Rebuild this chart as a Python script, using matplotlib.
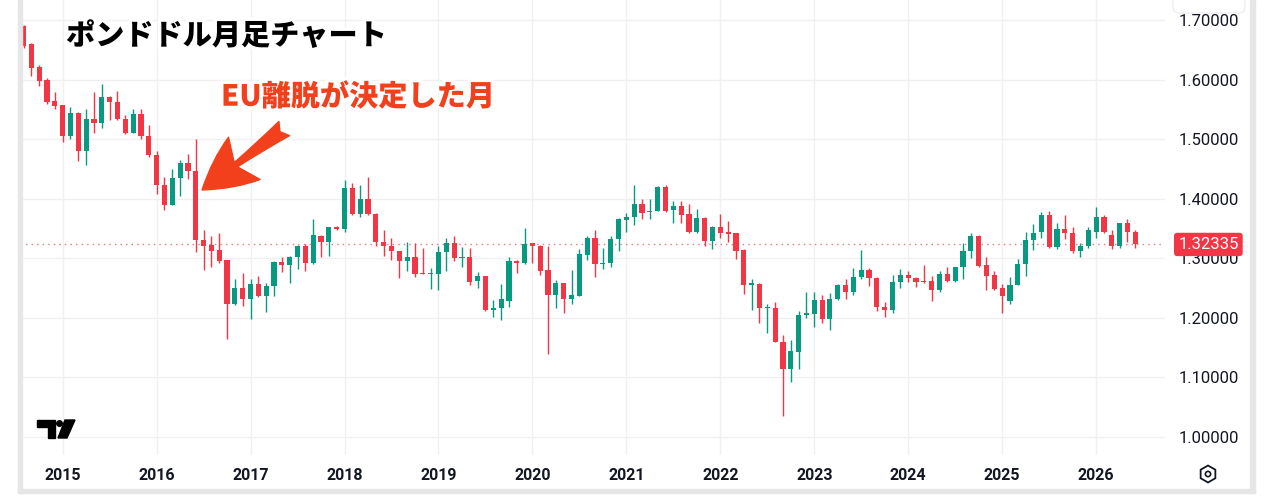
import matplotlib
matplotlib.use("Agg")
import matplotlib.pyplot as plt
import matplotlib.patheffects as pe
from matplotlib.patches import Rectangle, Polygon, RegularPolygon, Circle, FancyBboxPatch
from matplotlib.transforms import blended_transform_factory

# GBP/USD monthly candles, Aug 2014 -> Jun 2026
start_year, start_month = 2014, 8
opens = [1.690, 1.660, 1.622, 1.600, 1.565, 1.557, 1.505, 1.544, 1.480, 1.534,
         1.528, 1.571, 1.562, 1.534, 1.511, 1.542, 1.505, 1.473, 1.423, 1.390,
         1.435, 1.460, 1.447, 1.331, 1.322, 1.314, 1.297, 1.223, 1.250, 1.232,
         1.257, 1.236, 1.254, 1.294, 1.288, 1.302, 1.321, 1.292, 1.338, 1.327,
         1.353, 1.349, 1.418, 1.375, 1.400, 1.375, 1.328, 1.321, 1.312, 1.295,
         1.302, 1.276, 1.274, 1.274, 1.311, 1.325, 1.300, 1.302, 1.262, 1.270,
         1.213, 1.216, 1.229, 1.295, 1.292, 1.325, 1.321, 1.281, 1.238, 1.258,
         1.232, 1.237, 1.306, 1.335, 1.291, 1.293, 1.332, 1.365, 1.370, 1.392,
         1.377, 1.380, 1.420, 1.381, 1.388, 1.374, 1.345, 1.368, 1.329, 1.352,
         1.344, 1.342, 1.314, 1.255, 1.257, 1.216, 1.217, 1.160, 1.114, 1.143,
         1.205, 1.207, 1.230, 1.199, 1.231, 1.255, 1.243, 1.268, 1.281, 1.267,
         1.218, 1.213, 1.261, 1.272, 1.267, 1.262, 1.262, 1.247, 1.273, 1.262,
         1.285, 1.312, 1.338, 1.289, 1.272, 1.250, 1.229, 1.256, 1.290, 1.331,
         1.344, 1.372, 1.319, 1.349, 1.343, 1.312, 1.321, 1.345, 1.369, 1.340,
         1.320, 1.359, 1.345]
highs = [1.692, 1.662, 1.624, 1.603, 1.579, 1.558, 1.554, 1.545, 1.550, 1.580,
         1.593, 1.572, 1.581, 1.540, 1.551, 1.550, 1.524, 1.480, 1.437, 1.450,
         1.465, 1.475, 1.500, 1.347, 1.337, 1.343, 1.298, 1.266, 1.276, 1.265,
         1.270, 1.259, 1.295, 1.303, 1.304, 1.323, 1.324, 1.366, 1.339, 1.353,
         1.354, 1.432, 1.427, 1.423, 1.436, 1.376, 1.347, 1.335, 1.313, 1.328,
         1.325, 1.317, 1.283, 1.320, 1.334, 1.338, 1.319, 1.318, 1.277, 1.271,
         1.230, 1.257, 1.302, 1.297, 1.351, 1.325, 1.322, 1.321, 1.264, 1.259,
         1.281, 1.315, 1.338, 1.348, 1.317, 1.338, 1.367, 1.376, 1.424, 1.400,
         1.400, 1.421, 1.424, 1.397, 1.396, 1.391, 1.383, 1.369, 1.355, 1.374,
         1.363, 1.343, 1.315, 1.266, 1.258, 1.224, 1.227, 1.171, 1.163, 1.212,
         1.243, 1.243, 1.239, 1.241, 1.257, 1.266, 1.283, 1.314, 1.283, 1.268,
         1.226, 1.272, 1.282, 1.278, 1.269, 1.289, 1.270, 1.279, 1.285, 1.286,
         1.325, 1.342, 1.340, 1.303, 1.279, 1.257, 1.269, 1.299, 1.344, 1.358,
         1.377, 1.379, 1.359, 1.372, 1.353, 1.325, 1.353, 1.386, 1.373, 1.348,
         1.360, 1.366, 1.348]
lows = [1.654, 1.607, 1.589, 1.560, 1.550, 1.495, 1.500, 1.463, 1.457, 1.510,
        1.519, 1.533, 1.533, 1.509, 1.511, 1.500, 1.471, 1.408, 1.382, 1.390,
        1.404, 1.433, 1.311, 1.280, 1.286, 1.292, 1.164, 1.222, 1.220, 1.198,
        1.235, 1.210, 1.236, 1.277, 1.259, 1.282, 1.278, 1.291, 1.303, 1.304,
        1.347, 1.345, 1.373, 1.370, 1.373, 1.321, 1.304, 1.297, 1.267, 1.278,
        1.269, 1.273, 1.248, 1.247, 1.278, 1.296, 1.286, 1.255, 1.251, 1.211,
        1.201, 1.196, 1.219, 1.276, 1.290, 1.293, 1.272, 1.140, 1.216, 1.208,
        1.223, 1.236, 1.297, 1.268, 1.282, 1.285, 1.313, 1.345, 1.356, 1.366,
        1.366, 1.379, 1.378, 1.359, 1.359, 1.342, 1.342, 1.320, 1.316, 1.335,
        1.328, 1.299, 1.240, 1.213, 1.192, 1.175, 1.159, 1.035, 1.093, 1.115,
        1.200, 1.184, 1.191, 1.180, 1.230, 1.231, 1.238, 1.266, 1.254, 1.211,
        1.202, 1.209, 1.250, 1.261, 1.252, 1.258, 1.229, 1.244, 1.261, 1.261,
        1.265, 1.300, 1.285, 1.247, 1.247, 1.209, 1.224, 1.255, 1.271, 1.314,
        1.335, 1.317, 1.315, 1.332, 1.309, 1.302, 1.318, 1.334, 1.343, 1.316,
        1.318, 1.328, 1.317]
closes = [1.656, 1.619, 1.598, 1.563, 1.556, 1.505, 1.544, 1.480, 1.534, 1.528,
          1.571, 1.562, 1.534, 1.511, 1.542, 1.505, 1.473, 1.423, 1.390, 1.435,
          1.460, 1.446, 1.330, 1.321, 1.313, 1.296, 1.223, 1.250, 1.232, 1.257,
          1.236, 1.254, 1.294, 1.288, 1.302, 1.321, 1.292, 1.339, 1.327, 1.352,
          1.350, 1.418, 1.375, 1.400, 1.375, 1.328, 1.320, 1.312, 1.295, 1.302,
          1.273, 1.274, 1.276, 1.311, 1.326, 1.300, 1.303, 1.260, 1.270, 1.213,
          1.216, 1.231, 1.295, 1.292, 1.324, 1.320, 1.279, 1.238, 1.258, 1.232,
          1.238, 1.308, 1.335, 1.291, 1.293, 1.332, 1.366, 1.370, 1.392, 1.376,
          1.380, 1.420, 1.380, 1.388, 1.373, 1.345, 1.368, 1.329, 1.353, 1.343,
          1.341, 1.313, 1.255, 1.259, 1.216, 1.218, 1.159, 1.114, 1.145, 1.205,
          1.208, 1.230, 1.199, 1.231, 1.255, 1.243, 1.268, 1.281, 1.267, 1.218,
          1.213, 1.261, 1.272, 1.267, 1.261, 1.261, 1.247, 1.273, 1.262, 1.285,
          1.312, 1.338, 1.287, 1.271, 1.248, 1.237, 1.256, 1.290, 1.331, 1.343,
          1.372, 1.319, 1.350, 1.342, 1.312, 1.321, 1.348, 1.369, 1.345, 1.320,
          1.359, 1.345, 1.32335]

years = list(range(2015, 2027))
price_ticks = [1.0, 1.1, 1.2, 1.3, 1.4, 1.5, 1.6, 1.7]

UP = "#089981"
DOWN = "#f23645"
TXT = "#131722"
GRID = "#f0f0f0"
ORANGE = "#f2401c"

plt.rcParams['font.family'] = ['Roboto', 'DejaVu Sans']

W, H = 1274, 500
fig = plt.figure(figsize=(W / 100, H / 100), dpi=100)
fig.patch.set_facecolor("white")

# main price axes (pixel box: x 20..1165, y 0..455)
ax = fig.add_axes([20 / W, 45 / H, 1145 / W, 455 / H])
n = len(opens)
idx = list(range(n))

for i in idx:
    o, h, l, c = opens[i], highs[i], lows[i], closes[i]
    col = UP if c >= o else DOWN
    ax.vlines(i, l, h, color=col, linewidth=1.0, zorder=3)
    body = max(abs(c - o), 0.0015)
    ax.bar(i, body, bottom=min(o, c), width=0.66, color=col, linewidth=0, zorder=3)

ax.set_xlim(-0.45, 145.8)
ax.set_ylim(0.9698, 1.7338)

jan_idx = [(y - start_year) * 12 + (1 - start_month) for y in years]
ax.set_xticks(jan_idx)
ax.set_xticklabels([str(y) for y in years], fontsize=11.5, fontweight="bold", color=TXT)
ax.set_yticks(price_ticks)
ax.set_yticklabels([f"{p:.5f}" for p in price_ticks], fontsize=12, color=TXT)
ax.yaxis.tick_right()
ax.tick_params(axis="x", length=0, pad=9)
ax.tick_params(axis="y", length=0, pad=10)
ax.grid(True, color=GRID, linewidth=1)
ax.set_axisbelow(True)
for s in ax.spines.values():
    s.set_visible(False)

# last price line + tag
last = closes[-1]
ax.axhline(last, color="#e07a82", linestyle=(0, (1, 3)), linewidth=1, zorder=2)
tr = blended_transform_factory(ax.transAxes, ax.transData)
ax.text(1.0115, last, f"{last:.5f}", transform=tr, fontsize=12, color="white",
        va="center", ha="left", zorder=10, clip_on=False,
        bbox=dict(boxstyle="round,pad=0.25,rounding_size=0.2", fc=DOWN, ec="none"))

# Brexit arrow
ax.annotate("", xy=(22.8, 1.4148), xytext=(33.3, 1.518),
            arrowprops=dict(arrowstyle="fancy,head_length=0.95,head_width=0.95,tail_width=0.32",
                            fc=ORANGE, ec=ORANGE, mutation_scale=40, shrinkA=0, shrinkB=0),
            zorder=6)

# overlay axes in pixel coordinates for decorations
ov = fig.add_axes([0, 0, 1, 1], zorder=5)
ov.set_xlim(0, W)
ov.set_ylim(H, 0)
ov.axis("off")
ov.patch.set_alpha(0)

ov.add_patch(Rectangle((18, 0), 4, 493, color="#e6e6e6"))
ov.add_patch(Rectangle((1250, 0), 5, 493, color="#e6e6e6"))
ov.add_patch(Rectangle((18, 489), 1237, 4, color="#e6e6e6"))
ov.add_patch(FancyBboxPatch((1173, -12), 72, 25, boxstyle="round,pad=0,rounding_size=6",
                            fc="white", ec="#eeeeee", lw=1))

# TradingView logo
ov.add_patch(Polygon([(37, 420), (55, 420), (55, 438), (48, 438), (48, 427), (37, 427)],
                     closed=True, color="black"))
ov.add_patch(Circle((59.5, 423.5), 2.8, color="black"))
ov.add_patch(Polygon([(65, 420), (75, 420), (67, 438), (58, 438)], closed=True, color="black"))

# settings icon
ov.add_patch(RegularPolygon((1208, 474), 6, radius=8.5, orientation=0,
                            fill=False, ec=TXT, lw=1.3))
ov.add_patch(Circle((1208, 474), 2.6, fill=False, ec=TXT, lw=1.2))

jp = ['Noto Sans CJK JP', 'DejaVu Sans']
ov.text(66, 36, "ポンドドル月足チャート", family=jp, fontsize=21, fontweight="heavy",
        color="black", va="center", ha="left",
        path_effects=[pe.SimplePatchShadow(offset=(1.5, -1.5), alpha=0.35),
                      pe.Stroke(linewidth=5, foreground="white"), pe.Normal()])
ov.text(221, 97, "EU離脱が決定した月", family=jp, fontsize=21, fontweight="heavy",
        color=ORANGE, va="center", ha="left",
        path_effects=[pe.SimplePatchShadow(offset=(1.5, -1.5), alpha=0.35),
                      pe.Stroke(linewidth=5, foreground="white"), pe.Normal()])

fig.savefig("out.png", dpi=100)
